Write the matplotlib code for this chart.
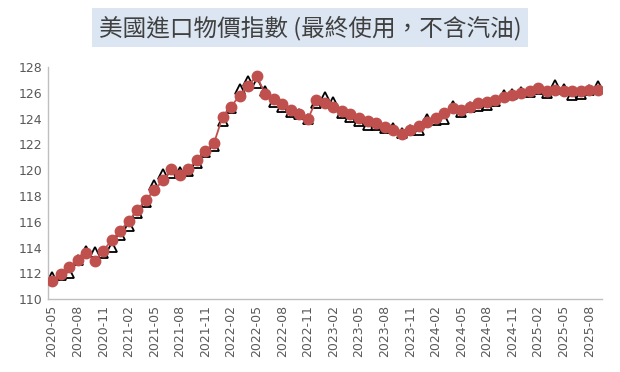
import matplotlib
matplotlib.use("Agg")
import matplotlib.pyplot as plt
import numpy as np

plt.rcParams['font.family'] = ['Noto Sans CJK TC', 'DejaVu Sans']

# 月份 (2020-05 ~ 2025-09)
months = []
for y in range(2020, 2026):
    for m in range(1, 13):
        if (y == 2020 and m < 5) or (y == 2025 and m > 9):
            continue
        months.append("%d-%02d" % (y, m))

# 紅色圓點 (含連線)
red_vals = [111.42, 111.94, 112.50, 113.00, 113.60, 112.97, 113.74, 114.57,
            115.30, 116.07, 116.90, 117.67, 118.45, 119.20, 120.05, 119.60,
            120.10, 120.80, 121.50, 122.10, 124.13, 124.93, 125.78, 126.55,
            127.30, 125.90, 125.48, 125.12, 124.70, 124.34, 123.95, 125.43,
            125.22, 124.86, 124.60, 124.34, 124.08, 123.82, 123.62, 123.33,
            123.10, 122.80, 123.10, 123.41, 123.74, 124.08, 124.44, 124.78,
            124.65, 124.90, 125.17, 125.30, 125.43, 125.64, 125.81, 125.99,
            126.15, 126.33, 126.15, 126.20, 126.15, 126.10, 126.15, 126.20,
            126.20]

# 黑色三角
black_vals = [111.68, 111.90, 112.04, 113.00, 113.75, 113.67, 113.54, 114.05,
              114.96, 115.66, 116.64, 117.54, 118.84, 119.69, 119.74, 119.87,
              119.95, 120.57, 121.42, 121.90, 123.80, 124.78, 126.26, 126.92,
              126.72, 126.15, 125.30, 124.90, 124.52, 124.34, 124.00, 125.17,
              125.68, 125.30, 124.40, 124.13, 123.82, 123.49, 123.49, 123.30,
              123.23, 122.85, 123.15, 123.10, 124.00, 123.87, 124.00, 124.96,
              124.52, 124.86, 124.96, 125.04, 125.37, 125.81, 125.94, 126.07,
              126.07, 126.26, 125.99, 126.59, 126.26, 125.81, 125.90, 126.20,
              126.50]

yticks = [110, 112, 114, 116, 118, 120, 122, 124, 126, 128]

x = np.arange(len(months))

fig = plt.figure(figsize=(6.2, 3.72), dpi=100)
ax = fig.add_axes([0.077, 0.196, 0.894, 0.624])

ax.plot(x, black_vals, linestyle='none', marker='^', markersize=7,
        markerfacecolor='white', markeredgecolor='black', markeredgewidth=1.3,
        zorder=2)
ax.plot(x, red_vals, color='#C0504D', linewidth=1.3, marker='o', markersize=7.5,
        markerfacecolor='#C0504D', markeredgecolor='#C0504D', zorder=3)

ax.set_xlim(-0.5, len(months) - 0.5)
ax.set_ylim(110, 128)
ax.set_yticks(yticks)
ax.set_yticklabels([str(t) for t in yticks], fontsize=9, color='#595959',
                   family='DejaVu Sans')
ax.set_xticks(x[::3])
ax.set_xticklabels(months[::3], rotation=90, fontsize=9, color='#595959',
                   family='DejaVu Sans')
ax.tick_params(length=0, pad=4)

for s in ['top', 'right']:
    ax.spines[s].set_visible(False)
for s in ['left', 'bottom']:
    ax.spines[s].set_color('#BFBFBF')
    ax.spines[s].set_linewidth(1.0)

fig.text(0.5, 0.925, '美國進口物價指數 (最終使用，不含汽油)', ha='center', va='center',
         fontsize=17, color='#404040',
         bbox=dict(boxstyle='square,pad=0.3', facecolor='#DCE6F2',
                   edgecolor='none'))

fig.savefig('out.png', dpi=100)
